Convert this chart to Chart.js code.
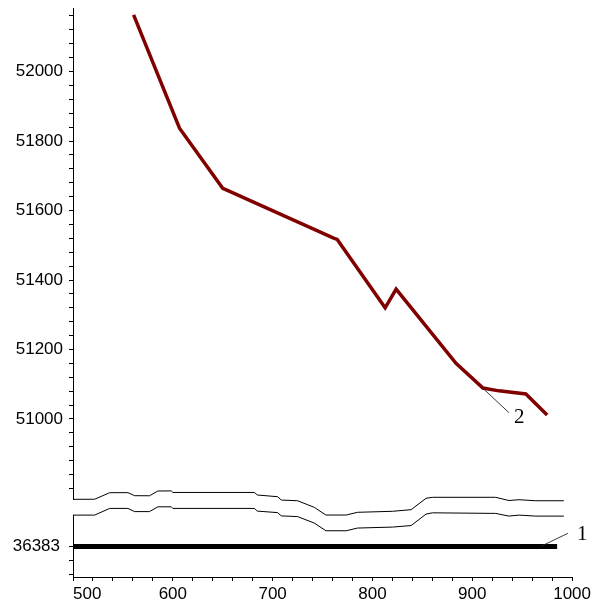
<!DOCTYPE html>
<html>
<head>
<meta charset="utf-8">
<title>Series 1 and 2</title>
<script src="https://cdn.jsdelivr.net/npm/chart.js@4/dist/chart.umd.min.js"></script>
<style>
  html, body { margin: 0; padding: 0; background: #fff; }
  #plot { display: block; }
</style>
</head>
<body>
<canvas id="plot" width="594" height="606"></canvas>
<script>
// ---- series 2 (upper segment of the broken axis) ----
const series2X = [560.7, 606.7, 650, 654.7, 761.7, 764.7, 812.7, 823.7, 883.7, 910.7, 926.7, 953.7, 975];
const series2Y = [52163, 51837, 51664, 51658, 51520, 51517, 51320, 51374, 51160, 51089, 51081, 51072, 51011.5];

// ---- series 1 (lower segment) ----
const series1X = [500, 985];
const series1Y = [36383, 36383];

// ---- torn edges marking the axis break ----
const breakX = [500, 521.7, 536.7, 555, 561.7, 576.7, 585, 598.4, 600, 681.7, 684.7, 705, 708.7, 725,
                741.7, 753.4, 773.7, 785, 820, 838.7, 853.7, 860, 923.4, 936.7, 946.7, 963.7, 991.7];
const breakUpperY = [50768.8, 50769, 50787.8, 50788, 50779.2, 50779, 50792.7, 50793, 50788.5, 50788.5,
                     50781.2, 50776.3, 50766.7, 50764.7, 50745.7, 50723.6, 50723.6, 50731.4, 50734.3,
                     50738.9, 50771.7, 50774.6, 50774.6, 50765.3, 50767.6, 50764.7, 50764.7];
const breakLowerY = [36473.7, 36473.7, 36493, 36493, 36483.8, 36483.8, 36497.6, 36497.6, 36493, 36493,
                     36485.2, 36480.9, 36471.4, 36469.4, 36450.7, 36428.5, 36428.5, 36436.3, 36439.1,
                     36443.5, 36476.6, 36480.3, 36478.6, 36470.8, 36473.7, 36470.8, 36470.8];

// ---- axes ----
const xRange = [500, 1000];
const xMinorStep = 20;
const xTickLabels = [500, 600, 700, 800, 900, 1000];

const yTopRange = [50769.7, 52183];
const yTopMinorStep = 40;
const yTopFirstTick = 50800;
const yTopTickLabels = [51000, 51200, 51400, 51600, 51800, 52000];

const yBotRange = [36295, 36474];
const yBotTicks = [36303, 36343, 36383];
const yBotTickLabels = [36383];

// curve tags: anchor on the curve, leader end offset, text offset
const seriesTags = [
  { text: '2', axis: 'yTop', x: 911.7, y: 51085.6, dx: 25, dy: 23.4, tx: 30, ty: 28.5 },
  { text: '1', axis: 'yBot', x: 968.4, y: 36383, dx: 27.3, dy: -13.2, tx: 36.5, ty: -12 }
];

const toPoints = (xs, ys) => xs.map((x, i) => ({ x, y: ys[i] }));

function stepTicks(from, to, step) {
  const out = [];
  for (let v = from; v <= to + 1e-9; v += step) out.push({ value: v });
  return out;
}

// Linear scale whose first tick label starts at its tick instead of centring on it
class EdgeLinearScale extends Chart.LinearScale {
  _computeLabelItems(chartArea) {
    const items = super._computeLabelItems(chartArea);
    if (items.length && items[0].options) items[0].options.textAlign = 'left';
    return items;
  }
}
EdgeLinearScale.id = 'edgeLinear';
Chart.register(EdgeLinearScale);

const tagPlugin = {
  id: 'seriesTags',
  afterDatasetsDraw(chart) {
    const ctx = chart.ctx;
    const xs = chart.scales.x;
    seriesTags.forEach(t => {
      const ys = chart.scales[t.axis];
      const ax = xs.getPixelForValue(t.x);
      const ay = ys.getPixelForValue(t.y);
      ctx.save();
      ctx.strokeStyle = '#222';
      ctx.lineWidth = 0.9;
      ctx.beginPath();
      ctx.moveTo(ax, ay);
      ctx.lineTo(ax + t.dx, ay + t.dy);
      ctx.stroke();
      ctx.fillStyle = '#000';
      ctx.font = '21px "Liberation Serif", "DejaVu Serif", serif';
      ctx.textAlign = 'left';
      ctx.textBaseline = 'middle';
      ctx.fillText(t.text, ax + t.tx, ay + t.ty);
      ctx.restore();
    });
  }
};

const tickFont = { family: '"Liberation Sans", Arial, sans-serif', size: 17 };
const axisGrid = { display: true, drawOnChartArea: false, drawTicks: true, tickLength: 4, color: '#000', lineWidth: 1 };
const axisBorder = { display: true, color: '#000', width: 1 };

// fixed axis band width; no extra room reserved for the end labels
function fitLeftAxis(s) {
  s.width = 73;
  s.paddingTop = 0;
  s.paddingBottom = 0;
}

// the left axes share one stack; they are laid out bottom segment first
new Chart(document.getElementById('plot'), {
  type: 'line',
  data: {
    datasets: [
      {
        label: '2',
        data: toPoints(series2X, series2Y),
        yAxisID: 'yTop',
        borderColor: '#800000',
        borderWidth: 3.5,
        pointRadius: 0,
        tension: 0
      },
      {
        label: 'break upper',
        data: toPoints(breakX, breakUpperY),
        yAxisID: 'yTop',
        borderColor: '#000',
        borderWidth: 1,
        pointRadius: 0,
        tension: 0,
        clip: false
      },
      {
        label: 'break lower',
        data: toPoints(breakX, breakLowerY),
        yAxisID: 'yBot',
        borderColor: '#000',
        borderWidth: 1,
        pointRadius: 0,
        tension: 0,
        clip: false
      },
      {
        label: '1',
        data: toPoints(series1X, series1Y),
        yAxisID: 'yBot',
        borderColor: '#000',
        borderWidth: 5,
        pointRadius: 0,
        tension: 0
      }
    ]
  },
  options: {
    responsive: false,
    animation: false,
    events: [],
    layout: { padding: { top: 8, right: 21, left: 0, bottom: 0 } },
    plugins: { legend: { display: false }, tooltip: { enabled: false } },
    scales: {
      x: {
        type: 'edgeLinear',
        position: 'bottom',
        min: xRange[0],
        max: xRange[1],
        grid: axisGrid,
        border: axisBorder,
        afterBuildTicks: s => { s.ticks = stepTicks(xRange[0], xRange[1], xMinorStep); },
        afterFit: s => { s.height = 29; },
        ticks: {
          autoSkip: false,
          maxRotation: 0,
          padding: 3,
          color: '#000',
          font: tickFont,
          callback: v => (xTickLabels.includes(v) ? String(v) : '')
        }
      },
      yBot: {
        type: 'linear',
        position: 'left',
        stack: 'y',
        stackWeight: 62,
        min: yBotRange[0],
        max: yBotRange[1],
        grid: axisGrid,
        border: axisBorder,
        afterBuildTicks: s => { s.ticks = yBotTicks.map(v => ({ value: v })); },
        afterFit: fitLeftAxis,
        ticks: {
          autoSkip: false,
          padding: 9,
          color: '#000',
          font: tickFont,
          callback: v => (yBotTickLabels.includes(v) ? String(v) : '')
        }
      },
      yGap: {
        type: 'linear',
        position: 'left',
        stack: 'y',
        stackWeight: 16,
        grid: { display: false },
        border: { display: false },
        ticks: { display: false },
        afterFit: fitLeftAxis
      },
      yTop: {
        type: 'linear',
        position: 'left',
        stack: 'y',
        stackWeight: 491,
        min: yTopRange[0],
        max: yTopRange[1],
        grid: axisGrid,
        border: axisBorder,
        afterBuildTicks: s => { s.ticks = stepTicks(yTopFirstTick, yTopRange[1], yTopMinorStep); },
        afterFit: fitLeftAxis,
        ticks: {
          autoSkip: false,
          padding: 6,
          color: '#000',
          font: tickFont,
          callback: v => (yTopTickLabels.includes(v) ? String(v) : '')
        }
      }
    }
  },
  plugins: [tagPlugin]
});
</script>
</body>
</html>
